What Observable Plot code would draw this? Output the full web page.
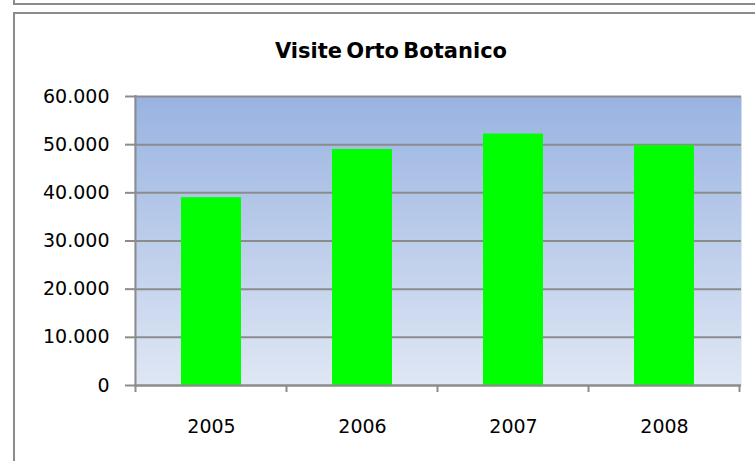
<!DOCTYPE html>
<html>
<head>
<meta charset="utf-8">
<script src="https://cdn.jsdelivr.net/npm/d3@7"></script>
<script src="https://cdn.jsdelivr.net/npm/@observablehq/plot@0.6"></script>
<style>
  html, body { margin: 0; padding: 0; background: #fff; }
  #wrap { position: relative; width: 755px; height: 461px; overflow: hidden; background: #fff; }
  #wrap svg { position: absolute; left: 0; top: 0; }
  .b { position: absolute; background: #8c8c8c; }
</style>
</head>
<body>
<div id="wrap">
  <div class="b" style="left:13px;top:0;width:2px;height:5px"></div>
  <div class="b" style="left:13px;top:3px;width:742px;height:2px"></div>
  <div class="b" style="left:13px;top:12px;width:742px;height:2px"></div>
  <div class="b" style="left:13px;top:12px;width:2px;height:449px"></div>
</div>
<script>
const title = "Visite Orto Botanico";
const years = ["2005", "2006", "2007", "2008"];
const visits = [39000, 49000, 52200, 49800];
const yTicks = [0, 10000, 20000, 30000, 40000, 50000, 60000];

const data = years.map((y, i) => ({year: y, visits: visits[i]}));
const itFormat = d3.formatLocale({decimal: ",", thousands: ".", grouping: [3], currency: ["", "€"]}).format(",");
const gray = "#8c8c8c";

const plot = Plot.plot({
  width: 755,
  height: 461,
  marginTop: 96,
  marginBottom: 76,
  marginLeft: 134,
  marginRight: 14,
  style: {fontFamily: "DejaVu Sans", fontSize: "19px", color: "#000", background: "transparent"},
  x: {domain: years, paddingInner: 0.6, paddingOuter: 0.3, label: null},
  y: {domain: [0, 60000], label: null},
  marks: [
    Plot.frame({fill: "url(#bg)", stroke: "none"}),
    Plot.gridY(yTicks, {stroke: gray, strokeOpacity: 1, strokeWidth: 2}),
    Plot.barY(data, {x: "year", y: "visits", fill: "#00ff00"}),
    Plot.ruleY([0], {stroke: gray, strokeWidth: 2}),
    Plot.axisY(yTicks, {tickFormat: itFormat, tickSize: 9, tickPadding: 16, stroke: gray, strokeWidth: 2, fill: "#000", fontSize: 19}),
    Plot.axisX({tickSize: 0, tickPadding: 34, fill: "#000", fontSize: 19})
  ]
});

document.getElementById("wrap").appendChild(plot);

const svg = d3.select(plot);
const grad = svg.insert("defs", ":first-child").append("linearGradient")
  .attr("id", "bg").attr("x1", 0).attr("y1", 0).attr("x2", 0).attr("y2", 1);
grad.append("stop").attr("offset", "0%").attr("stop-color", "#99b3e1");
grad.append("stop").attr("offset", "100%").attr("stop-color", "#dfe7f4");

const xs = plot.scale("x");
const ys = plot.scale("y");
const gap = (xs.step - xs.bandwidth) / 2;
const bounds = years.map(y => xs.apply(y) - gap);
bounds.push(xs.apply(years[years.length - 1]) + xs.bandwidth + gap);
const y0 = ys.apply(0);
const yTop = ys.apply(yTicks[yTicks.length - 1]);
const extra = svg.append("g").attr("stroke", gray).attr("stroke-width", 2);
extra.selectAll("line.tx").data(bounds).join("line")
  .attr("x1", d => d).attr("x2", d => d).attr("y1", y0).attr("y2", y0 + 7);
extra.append("line")
  .attr("x1", bounds[0]).attr("x2", bounds[0]).attr("y1", yTop - 1).attr("y2", y0);

svg.append("text")
  .attr("x", 391)
  .attr("y", 58)
  .attr("text-anchor", "middle")
  .attr("font-family", "DejaVu Sans")
  .attr("font-weight", "bold")
  .attr("font-size", 21)
  .attr("word-spacing", "-3px")
  .attr("fill", "#000")
  .text(title);
</script>
</body>
</html>
